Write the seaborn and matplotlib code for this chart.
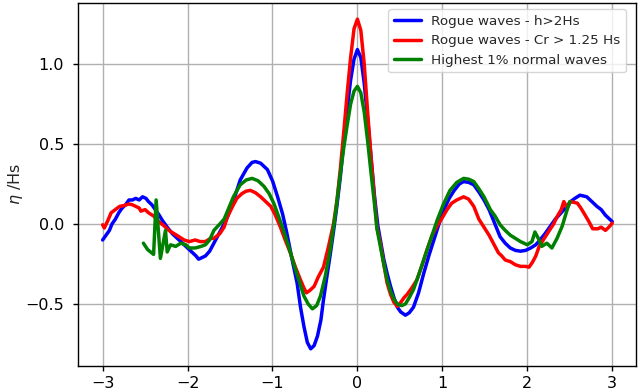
import matplotlib
matplotlib.use("Agg")
import matplotlib.pyplot as plt
import numpy as np
import pandas as pd
import seaborn as sns

# --- data (eta/Hs vs t/T) ---
x_blue = [-3.00, -2.96, -2.92, -2.89, -2.85, -2.81, -2.77, -2.73, -2.69, -2.65,
          -2.61, -2.57, -2.53, -2.49, -2.46, -2.42, -2.38, -2.34, -2.30, -2.24,
          -2.18, -2.12, -2.06, -2.00, -1.94, -1.90, -1.87, -1.83, -1.79, -1.74,
          -1.69, -1.63, -1.58, -1.53, -1.45, -1.38, -1.30, -1.24, -1.20, -1.14,
          -1.06, -1.00, -0.94, -0.88, -0.83, -0.77, -0.71, -0.67, -0.63, -0.59,
          -0.55, -0.51, -0.47, -0.43, -0.40, -0.36, -0.32, -0.28, -0.24, -0.20,
          -0.16, -0.12, -0.08, -0.04, 0.00, 0.04, 0.08, 0.12, 0.16, 0.20,
          0.24, 0.27, 0.31, 0.35, 0.39, 0.43, 0.47, 0.51, 0.565, 0.61,
          0.66, 0.72, 0.78, 0.84, 0.90, 0.96, 1.02, 1.08, 1.14, 1.20,
          1.25, 1.31, 1.37, 1.43, 1.49, 1.55, 1.60, 1.68, 1.74, 1.80,
          1.86, 1.92, 1.98, 2.04, 2.10, 2.15, 2.21, 2.27, 2.33, 2.39,
          2.45, 2.51, 2.56, 2.62, 2.66, 2.70, 2.76, 2.82, 2.87, 2.92,
          2.96, 3.00]
y_blue = [-0.10, -0.07, -0.04, 0.00, 0.03, 0.07, 0.10, 0.12, 0.15, 0.15,
          0.16, 0.15, 0.17, 0.16, 0.14, 0.12, 0.09, 0.06, 0.025, -0.02,
          -0.06, -0.09, -0.12, -0.15, -0.18, -0.20, -0.22, -0.21, -0.20, -0.17,
          -0.12, -0.06, -0.01, 0.045, 0.16, 0.275, 0.35, 0.385, 0.39, 0.38,
          0.34, 0.27, 0.17, 0.06, -0.06, -0.22, -0.37, -0.52, -0.64, -0.74,
          -0.78, -0.76, -0.70, -0.60, -0.475, -0.33, -0.19, -0.04, 0.12, 0.30,
          0.52, 0.72, 0.90, 1.03, 1.09, 1.04, 0.88, 0.66, 0.42, 0.18,
          -0.01, -0.10, -0.22, -0.31, -0.39, -0.46, -0.52, -0.55, -0.57, -0.555,
          -0.52, -0.43, -0.31, -0.20, -0.10, 0.00, 0.09, 0.16, 0.21, 0.25,
          0.265, 0.26, 0.245, 0.20, 0.15, 0.09, 0.025, -0.08, -0.12, -0.15,
          -0.165, -0.17, -0.165, -0.15, -0.13, -0.10, -0.06, -0.015, 0.03, 0.065,
          0.10, 0.14, 0.16, 0.18, 0.175, 0.17, 0.14, 0.11, 0.09, 0.055,
          0.035, 0.015]

x_red = [-3.00, -2.98, -2.94, -2.90, -2.85, -2.80, -2.75, -2.69, -2.65, -2.61,
         -2.57, -2.55, -2.50, -2.46, -2.40, -2.34, -2.28, -2.22, -2.16, -2.10,
         -2.04, -1.98, -1.91, -1.85, -1.79, -1.73, -1.69, -1.62, -1.57, -1.53,
         -1.47, -1.42, -1.36, -1.31, -1.26, -1.20, -1.14, -1.08, -1.02, -0.97,
         -0.91, -0.85, -0.79, -0.73, -0.67, -0.63, -0.60, -0.56, -0.51, -0.46,
         -0.40, -0.34, -0.28, -0.24, -0.20, -0.16, -0.12, -0.08, -0.04, 0.00,
         0.04, 0.08, 0.12, 0.16, 0.20, 0.23, 0.27, 0.31, 0.35, 0.39,
         0.43, 0.47, 0.51, 0.55, 0.585, 0.64, 0.70, 0.76, 0.82, 0.88,
         0.94, 1.00, 1.055, 1.11, 1.17, 1.21, 1.25, 1.31, 1.37, 1.43,
         1.49, 1.55, 1.60, 1.66, 1.70, 1.74, 1.80, 1.86, 1.92, 1.98,
         2.02, 2.06, 2.10, 2.14, 2.20, 2.26, 2.31, 2.35, 2.40, 2.43,
         2.47, 2.51, 2.55, 2.59, 2.63, 2.67, 2.72, 2.77, 2.83, 2.87,
         2.92, 2.96, 3.00]
y_red = [-0.005, -0.025, 0.02, 0.07, 0.09, 0.11, 0.115, 0.125, 0.12, 0.11,
         0.10, 0.08, 0.09, 0.07, 0.05, 0.015, -0.01, -0.04, -0.06, -0.08,
         -0.10, -0.11, -0.10, -0.11, -0.11, -0.09, -0.09, -0.06, -0.02, 0.045,
         0.11, 0.16, 0.19, 0.205, 0.21, 0.195, 0.17, 0.14, 0.11, 0.06,
         -0.015, -0.10, -0.18, -0.27, -0.35, -0.40, -0.43, -0.415, -0.39, -0.33,
         -0.27, -0.14, 0.005, 0.15, 0.35, 0.58, 0.82, 1.04, 1.22, 1.28,
         1.21, 1.00, 0.70, 0.42, 0.16, -0.02, -0.12, -0.25, -0.37, -0.44,
         -0.49, -0.515, -0.49, -0.46, -0.44, -0.40, -0.35, -0.26, -0.16, -0.07,
         -0.01, 0.04, 0.09, 0.13, 0.15, 0.16, 0.17, 0.155, 0.11, 0.03,
         -0.02, -0.07, -0.12, -0.18, -0.20, -0.225, -0.235, -0.255, -0.265, -0.265,
         -0.27, -0.24, -0.20, -0.14, -0.09, -0.04, 0.00, 0.045, 0.09, 0.14,
         0.10, 0.14, 0.135, 0.13, 0.10, 0.065, 0.02, -0.03, -0.03, -0.02,
         -0.04, -0.02, 0.005]

x_green = [-2.52, -2.47, -2.40, -2.37, -2.32, -2.26, -2.24, -2.20, -2.14, -2.08,
           -2.02, -1.98, -1.91, -1.84, -1.79, -1.74, -1.69, -1.62, -1.57, -1.53,
           -1.46, -1.38, -1.31, -1.24, -1.17, -1.10, -1.04, -0.985, -0.93, -0.87,
           -0.81, -0.75, -0.69, -0.63, -0.58, -0.53, -0.48, -0.435, -0.38, -0.32,
           -0.26, -0.20, -0.16, -0.12, -0.08, -0.04, 0.00, 0.04, 0.08, 0.12,
           0.16, 0.20, 0.23, 0.27, 0.31, 0.35, 0.39, 0.43, 0.47, 0.52,
           0.565, 0.61, 0.66, 0.72, 0.78, 0.86, 0.94, 1.01, 1.09, 1.17,
           1.25, 1.31, 1.37, 1.43, 1.49, 1.565, 1.62, 1.68, 1.74, 1.80,
           1.86, 1.92, 2.00, 2.055, 2.09, 2.13, 2.17, 2.23, 2.29, 2.35,
           2.41, 2.47, 2.50]
y_green = [-0.12, -0.16, -0.19, 0.15, -0.215, -0.04, -0.175, -0.13, -0.14, -0.12,
           -0.13, -0.15, -0.15, -0.14, -0.13, -0.10, -0.04, 0.00, 0.03, 0.08,
           0.17, 0.245, 0.275, 0.285, 0.27, 0.235, 0.19, 0.13, 0.05, -0.04,
           -0.14, -0.25, -0.35, -0.45, -0.50, -0.53, -0.51, -0.45, -0.33, -0.16,
           0.06, 0.32, 0.48, 0.62, 0.75, 0.83, 0.86, 0.82, 0.70, 0.52,
           0.32, 0.13, -0.03, -0.14, -0.25, -0.35, -0.42, -0.47, -0.50, -0.51,
           -0.50, -0.46, -0.41, -0.32, -0.225, -0.10, 0.025, 0.12, 0.21, 0.26,
           0.285, 0.28, 0.265, 0.22, 0.17, 0.09, 0.05, -0.005, -0.04, -0.07,
           -0.09, -0.11, -0.13, -0.11, -0.05, -0.09, -0.14, -0.12, -0.15, -0.09,
           -0.015, 0.09, 0.14]

labels = ["Rogue waves - h>2Hs", "Rogue waves - Cr > 1.25 Hs", "Highest 1% normal waves"]
colors = ["#0000ff", "#ff0000", "#008000"]

# ==============================================================================
# PLOT
# ==============================================================================
sns.set_theme(style="whitegrid", rc={
    "axes.edgecolor": "black",
    "axes.linewidth": 1.0,
    "grid.color": "#b0b0b0",
    "grid.linewidth": 1.0,
    "xtick.bottom": True,
    "ytick.left": True,
    "xtick.color": "black",
    "ytick.color": "black",
})
plt.rcParams["font.family"] = ["DejaVu Sans"]

fig = plt.figure(figsize=(6.4, 3.88), dpi=100)
ax = fig.add_axes([78 / 640, 22 / 388, 558 / 640, 363 / 388])

series = [(x_blue, y_blue), (x_red, y_red), (x_green, y_green)]
for (xs, ys), lab, col in zip(series, labels, colors):
    df = pd.DataFrame({"t": xs, "eta": ys})
    sns.lineplot(data=df, x="t", y="eta", ax=ax, color=col, lw=2.5,
                 label=lab, sort=False, estimator=None)

ax.set_xlim(-3.29, 3.28)
ax.set_ylim(-0.8875, 1.381)
ax.set_xticks([-3, -2, -1, 0, 1, 2, 3])
ax.set_yticks([-0.5, 0.0, 0.5, 1.0])
ax.set_xticklabels(["\u22123", "\u22122", "\u22121", "0", "1", "2", "3"])
ax.set_yticklabels(["\u22120.5", "0.0", "0.5", "1.0"])
ax.tick_params(axis="both", labelsize=11.5, length=3.6, width=1)
ax.tick_params(axis="y", pad=6.5)
ax.set_xlabel("")
ax.set_ylabel(r"$\eta$ /Hs", fontsize=11.5, labelpad=0)

leg = ax.legend(loc="upper right", bbox_to_anchor=(0.982, 0.983), borderaxespad=0,
                fontsize=9.7, frameon=True, framealpha=0.8,
                edgecolor="#cccccc", fancybox=True)

fig.savefig("out.png", dpi=100)
